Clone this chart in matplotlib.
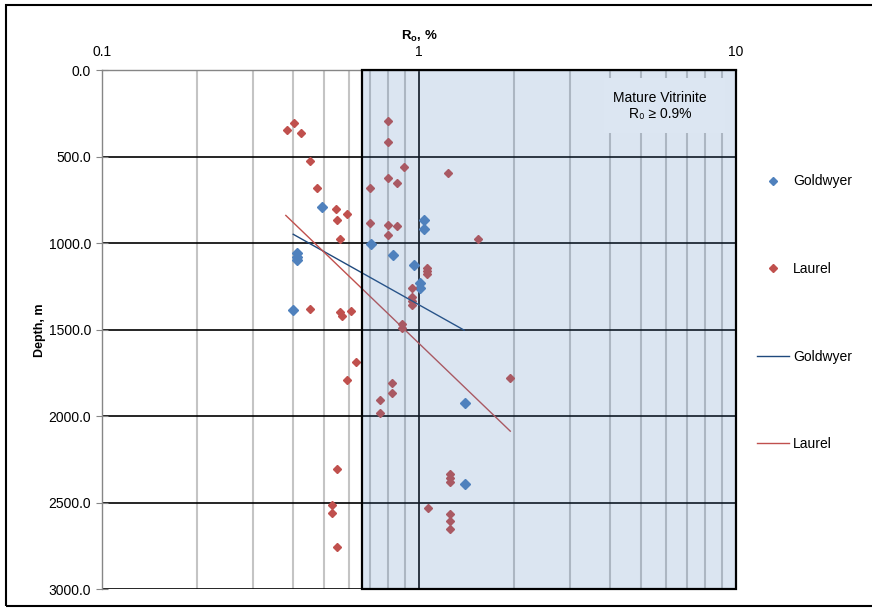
import matplotlib
matplotlib.use("Agg")
import matplotlib.pyplot as plt
from matplotlib.patches import Rectangle
from matplotlib.lines import Line2D
from matplotlib.ticker import FixedLocator, FuncFormatter

plt.rcParams['font.family'] = ['Liberation Sans', 'DejaVu Sans']

# Goldwyer samples (Ro %, depth m)
gold_ro = [1.04, 1.04, 0.967, 0.704, 0.413, 0.413, 0.413, 0.83, 1.007, 1.007,
           0.401, 1.40, 1.397, 0.493]
gold_depth = [868, 918, 1128, 1005, 1058, 1078, 1097, 1066, 1232, 1261,
              1384, 1926, 2394, 791]

# Laurel samples (Ro %, depth m)
laurel_ro = [0.3825, 0.403, 0.423, 0.453, 0.476, 0.546, 0.593, 0.552, 0.563,
             0.798, 0.798, 0.897, 0.798, 0.852, 0.70, 0.70, 0.798, 0.854, 0.798,
             1.237, 1.535, 1.062, 1.062, 1.062,
             0.953, 0.953, 0.953, 0.953,
             0.453, 0.563, 0.570, 0.61, 0.882, 0.882, 0.633, 0.594, 0.824, 0.824,
             0.751, 0.751, 1.94, 0.552, 0.533, 0.533, 0.552,
             1.253, 1.253, 1.253, 1.07, 1.25, 1.25, 1.25]
laurel_depth = [345, 307, 361, 523, 682, 800, 833, 866, 977,
                295, 416, 561, 625, 652, 682, 885, 893, 899, 954,
                596, 974, 1140, 1160, 1178,
                1257, 1310, 1335, 1357,
                1377, 1396, 1419, 1390, 1467, 1492, 1689, 1793, 1810, 1868,
                1908, 1980, 1781, 2306, 2514, 2558, 2755,
                2331, 2354, 2379, 2529, 2566, 2608, 2654]

# logarithmic trendlines (end points)
gold_trend_ro = [0.401, 1.387]
gold_trend_depth = [948, 1502]
laurel_trend_ro = [0.380, 1.94]
laurel_trend_depth = [839, 2086]

mature_ro = [0.66, 10]

blue = '#4f81bd'
red = '#c0504d'

fig = plt.figure(figsize=(8.72, 6.08), dpi=100)
ax = fig.add_axes([0.117, 0.0308, 0.7271, 0.8536])

ax.set_xscale('log')
ax.set_xlim(0.1, 10)
ax.set_ylim(3000, 0)

ax.xaxis.set_ticks_position('top')
ax.xaxis.set_label_position('top')
ax.xaxis.set_major_locator(FixedLocator([0.1, 1, 10]))
ax.xaxis.set_major_formatter(FuncFormatter(lambda v, p: '%g' % v))
ax.xaxis.set_minor_locator(FixedLocator([0.2, 0.3, 0.4, 0.5, 0.6, 0.7, 0.8, 0.9,
                                         2, 3, 4, 5, 6, 7, 8, 9]))
ax.xaxis.set_minor_formatter(FuncFormatter(lambda v, p: ''))
ax.set_yticks([0, 500, 1000, 1500, 2000, 2500, 3000])
ax.yaxis.set_major_formatter(FuncFormatter(lambda v, p: '%.1f' % v))

ax.tick_params(axis='x', which='major', length=0, labelsize=10, pad=8)
ax.tick_params(axis='x', which='minor', length=0)
ax.tick_params(axis='y', which='major', direction='inout', length=8,
               color='#868686', labelsize=10, pad=4)

ax.grid(True, axis='x', which='minor', color='#c4c4c4', lw=1.5, zorder=0)
ax.grid(True, axis='x', which='major', color='#000000', lw=1.2)
ax.grid(True, axis='y', which='major', color='#000000', lw=1.2)
ax.set_axisbelow(True)

for s in ['right', 'bottom']:
    ax.spines[s].set_visible(False)
for s in ['left', 'top']:
    ax.spines[s].set_color('#868686')
    ax.spines[s].set_linewidth(1.0)

ax.set_xlabel('R$_\\mathregular{o}$, %', fontsize=9.5, fontweight='bold', labelpad=4)
ax.set_ylabel('Depth, m', fontsize=9, fontweight='bold', labelpad=1.5)

ax.plot(gold_ro, gold_depth, ls='none', marker='D', ms=5.2, color=blue,
        mec=blue, zorder=3)
ax.plot(laurel_ro, laurel_depth, ls='none', marker='D', ms=4.3, color=red,
        mec=red, zorder=3)
ax.plot(gold_trend_ro, gold_trend_depth, color='#1f497d', lw=1.0, zorder=4)
ax.plot(laurel_trend_ro, laurel_trend_depth, color=red, lw=1.0, zorder=4)

# mature vitrinite zone: translucent overlay
ax.axvspan(mature_ro[0], mature_ro[1], facecolor=blue, alpha=0.2, lw=0, zorder=5)
ax.add_patch(Rectangle((mature_ro[0], 0), mature_ro[1] - mature_ro[0], 3000,
                       fill=False, edgecolor='black', lw=1.6, zorder=6,
                       clip_on=False))

ax.add_patch(Rectangle((0.792, 0.879), 0.191, 0.106, transform=ax.transAxes,
                       facecolor='#dce6f2', edgecolor='none', zorder=7))
ax.text(0.880, 0.931, 'Mature Vitrinite\nR\u2080 \u2265 0.9%', transform=ax.transAxes,
        ha='center', va='center', fontsize=10, linespacing=1.2, zorder=8,
        family=['Liberation Sans', 'DejaVu Sans'])

handles = [
    Line2D([], [], ls='none', marker='D', ms=4.5, color=blue),
    Line2D([], [], ls='none', marker='D', ms=3.6, color=red),
    Line2D([], [], color='#1f497d', lw=1.0),
    Line2D([], [], color=red, lw=1.0),
]
fig.legend(handles, ['Goldwyer', 'Laurel', 'Goldwyer', 'Laurel'],
           loc='upper left', bbox_to_anchor=(0.868, 0.713), frameon=False,
           fontsize=10, labelspacing=5.3, handlelength=2.3,
           handletextpad=0.3, borderpad=0, borderaxespad=0)

# outer chart frame
fig.add_artist(Rectangle((6 / 872, 2 / 608), 1.0, 1 - 7 / 608,
                         transform=fig.transFigure, fill=False,
                         edgecolor='black', lw=1.5))

fig.savefig('out.png', dpi=100)
